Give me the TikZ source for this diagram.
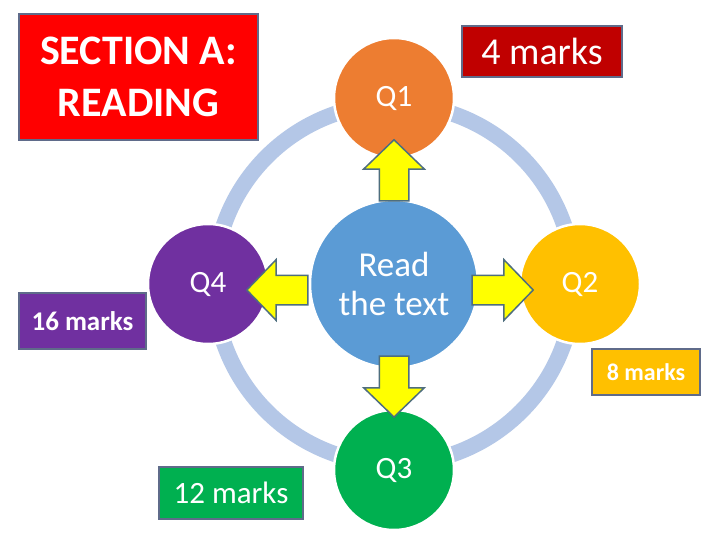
\documentclass[tikz,border=0pt]{standalone}
\usepackage{fontspec}
\setmainfont{Carlito}
\usetikzlibrary{shapes.arrows, calc}
\definecolor{ringblue}{HTML}{B4C7E7}
\definecolor{readblue}{HTML}{5B9BD5}
\definecolor{qorange}{HTML}{ED7D31}
\definecolor{qgold}{HTML}{FFC000}
\definecolor{qgreen}{HTML}{00B050}
\definecolor{qpurple}{HTML}{7030A0}
\definecolor{secred}{HTML}{FF0000}
\definecolor{dkred}{HTML}{C00000}
\definecolor{boxedge}{HTML}{5F6B8A}
\definecolor{arrfill}{HTML}{FFFF00}
\definecolor{arredge}{HTML}{4E6E7E}

\begin{document}
\begin{tikzpicture}[x=1pt, y=-1pt,
  ring/.style={draw=ringblue, line width=16pt},
  qcirc/.style={circle, draw=white, line width=2.5pt, minimum size=120pt,
    inner sep=0pt, text=white, font=\fontsize{31}{36}\selectfont},
  markbox/.style={rectangle, draw=boxedge, line width=1.5pt, text=white, inner sep=0pt},
  blockarr/.style={single arrow, draw=arredge, fill=arrfill, line width=1.5pt,
    minimum height=61pt, inner xsep=0pt, inner ysep=14pt,
    single arrow head extend=15.5pt, single arrow tip angle=92},
]

% Background
\fill[white] (0,0) rectangle (720,540);
\useasboundingbox (0,0) rectangle (720,540);

% Ring behind the circles
\draw[ring] (394,284) circle (180);

\node[qcirc, fill=readblue, minimum size=168pt, font=\fontsize{35}{39}\selectfont,
  align=center] (read) at (394,284) {Read\\the text};
\node[qcirc, fill=qorange] (q1) at (394,98) {Q1};
\node[qcirc, fill=qgold] (q2) at (580,284) {Q2};
\node[qcirc, fill=qgreen] (q3) at (394,470) {Q3};
\node[qcirc, fill=qpurple] (q4) at (208,284) {Q4};

% Block arrows from the centre
\node[blockarr, rotate=90] (aup) at ($(read)!0.573!(q1)$) {};
\node[blockarr] (aright) at ($(read)!0.546!(q2)+(0,6)$) {};
\node[blockarr, rotate=-90] (adown) at ($(read)!0.513!(q3)$) {};
\node[blockarr, rotate=180] (aleft) at ($(read)!0.589!(q4)+(0,6)$) {};

% Mark boxes
\node[markbox, fill=secred, minimum width=239pt, minimum height=126pt, align=center,
  font=\bfseries\fontsize{42}{52}\selectfont] (section) at (138.5,77) {SECTION A:\\READING};
\node[markbox, fill=dkred, minimum width=160pt, minimum height=51pt,
  font=\fontsize{38}{44}\selectfont] (m1) at (542,51.5) {4 marks};
\node[markbox, fill=qgold, minimum width=108pt, minimum height=46pt,
  font=\bfseries\fontsize{24}{28}\selectfont] (m2) at (646,372) {8 marks};
\node[markbox, fill=qgreen, minimum width=144pt, minimum height=52pt,
  font=\fontsize{31}{36}\selectfont] (m3) at (231,493) {12 marks};
\node[markbox, fill=qpurple, minimum width=127pt, minimum height=56pt,
  font=\bfseries\fontsize{27}{32}\selectfont] (m4) at (82.5,321) {16 marks};
\end{tikzpicture}
\end{document}
